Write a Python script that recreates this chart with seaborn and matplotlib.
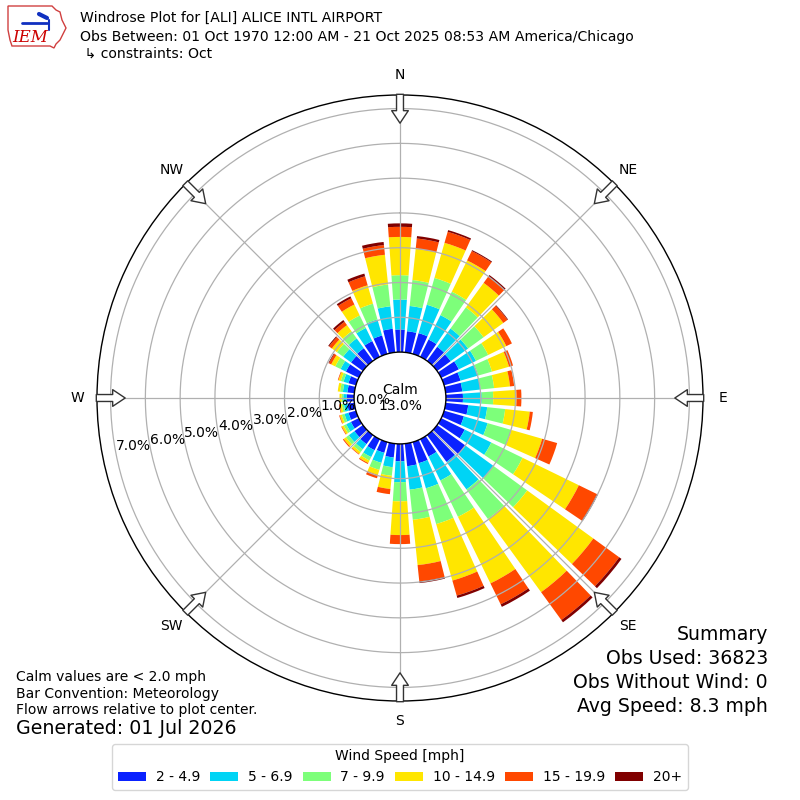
import numpy as np
import matplotlib
matplotlib.use("Agg")
import matplotlib.pyplot as plt
from matplotlib.patches import Patch, Circle, Polygon
import seaborn as sns

# wind direction bins (deg, meteorological) and speed bins
directions = list(range(0, 360, 10))
speed_bins = ["2 - 4.9", "5 - 6.9", "7 - 9.9", "10 - 14.9", "15 - 19.9", "20+"]
compass = ["N", "NE", "E", "SE", "S", "SW", "W", "NW"]

# frequency [%] per direction for each speed bin
spd_2_5 = [.65, .61, .62, .55, .50, .48, .56, .49, .48, .49, .65, .59,
           .75, 1.00, .95, .55, .63, .65, .50, .40, .32, .35, .32, .30,
           .25, .22, .20, .21, .20, .22, .41, .42, .45, .50, .55, .68]
spd_5_7 = [.86, .73, .85, .78, .65, .62, .55, .53, .53, .54, .55, .71,
           .85, 1.00, .98, .77, .75, .68, .60, .28, .30, .22, .18, .20,
           .15, .12, .10, .10, .13, .15, .17, .28, .35, .42, .48, .65]
spd_7_10 = [.70, .75, .80, .75, .75, .55, .39, .41, .39, .33, .52, .71,
            1.00, 1.20, 1.05, 1.16, 1.07, .87, .55, .25, .21, .11, .10, .10,
            .08, .08, .06, .05, .08, .08, .17, .22, .25, .40, .47, .63]
spd_10_15 = [1.10, .90, 1.05, 1.00, .87, .70, .58, .51, .46, .67, .71, .92,
             1.80, 2.35, 2.60, 2.13, 1.69, 1.31, .97, .38, .15, .08, .07, .08,
             .06, .06, .06, .06, .07, .07, .13, .18, .22, .35, .55, .86]
spd_15_20 = [.29, .30, .33, .30, .22, .15, .18, .12, .12, .14, .09, .45,
             .58, .92, .99, .67, .45, .47, .26, .15, .10, .03, .02, .03,
             .02, .02, .02, 0, 0, .02, .07, .10, .12, .20, .27, .28]
spd_20p = [.10, .07, .05, .03, .06, .02, 0, 0, 0, 0, 0, 0,
           .03, .08, .08, .08, .07, .05, 0, 0, 0, 0, 0, 0,
           0, 0, 0, 0, 0, 0, .02, .03, .06, .06, .08, .09]
calm_pct = 13.0

series = [spd_2_5, spd_5_7, spd_7_10, spd_10_15, spd_15_20, spd_20p]
colors = sns.color_palette(["#0a22ff", "#00d4f5", "#7dff7a",
                            "#ffe600", "#ff4800", "#800000"])

sns.set_theme(style="white")
plt.rcParams['font.family'] = ['DejaVu Sans']
plt.rcParams['text.color'] = 'black'
plt.rcParams['ytick.color'] = 'black'
plt.rcParams['ytick.labelcolor'] = 'black'

fig = plt.figure(figsize=(8, 8), dpi=100)
ax = fig.add_axes([0.12125, 0.12375, 0.7575, 0.7575], projection="polar")
ax.set_theta_zero_location("N")
ax.set_theta_direction(-1)

offset = 1.32          # calm circle radius, in % units
rmax = offset + 7.39
ax.set_ylim(0, rmax)

theta = np.deg2rad(directions)
width = np.deg2rad(10) * 0.8
bottom = np.full(len(directions), offset)
for vals, color in zip(series, colors):
    ax.bar(theta, vals, width=width, bottom=bottom, color=color,
           edgecolor="none", zorder=2)
    bottom = bottom + np.array(vals)

# grid drawn by hand so it sits over the bars but under the calm circle
ax.grid(False)
ring_t = np.linspace(0, 2 * np.pi, 361)
for k in range(1, 8):
    ax.plot(ring_t, np.full_like(ring_t, offset + k), color="#b0b0b0",
            lw=0.9, zorder=2.6)
for ang in range(0, 360, 45):
    ax.plot([np.deg2rad(ang)] * 2, [offset, rmax], color="#b0b0b0",
            lw=0.9, zorder=2.6)

ax.set_xticks(np.deg2rad(range(0, 360, 45)))
ax.set_xticklabels([])
ax.set_yticks(offset + np.arange(8))
ax.set_yticklabels([f"{k:.1f}%" for k in range(8)], fontsize=10,
                   color="black")
ax.set_rlabel_position(259)
ax.tick_params(axis="y", pad=0)
ax.yaxis.set_zorder(4)
ax.spines["polar"].set_color("black")
ax.spines["polar"].set_linewidth(1.0)

calm = Circle((0.5, 0.5), 0.5 * offset / rmax, transform=ax.transAxes,
              facecolor="white", edgecolor="black", lw=1.0, zorder=3)
ax.add_patch(calm)
ax.text(0.5, 0.5, f"Calm\n{calm_pct:.1f}%", transform=ax.transAxes,
        ha="center", va="center", fontsize=10, zorder=5)

# direction labels and flow arrows
for name, ang in zip(compass, range(0, 360, 45)):
    t = np.deg2rad(ang)
    ax.annotate("", xy=(t, 7.9), xytext=(t, rmax + 0.02),
                arrowprops=dict(facecolor="white", edgecolor="#333333",
                                width=5, headwidth=12, headlength=9,
                                shrink=0, lw=1),
                annotation_clip=False, zorder=6)
    ax.text(t, 9.28, name, ha="center", va="center", fontsize=10)

# header with a rough IEM logo
px = lambda x, y: (x / 800, 1 - y / 800)
iowa = Polygon([px(8, 6), px(52, 6), px(56, 10), px(60, 12), px(62, 20),
                px(66, 28), px(63, 34), px(60, 40), px(56, 44), px(54, 48),
                px(50, 46), px(12, 46), px(10, 40), px(8, 30)],
               closed=True, fill=False, edgecolor="#d04040", lw=1,
               transform=fig.transFigure)
fig.patches.append(iowa)
for (x0, y0), (x1, y1), lw in [((22, 23), (47, 23), 2), ((39, 14), (47, 18), 3),
                               ((49, 20), (49, 30), 1.5)]:
    fig.lines.append(plt.Line2D([x0 / 800, x1 / 800], [1 - y0 / 800, 1 - y1 / 800],
                                color="#1030c0", lw=lw,
                                transform=fig.transFigure))
fig.text(*px(30, 38), "IEM", color="#cc0000", fontsize=12, style="italic",
         family="DejaVu Serif", ha="center", va="center")
fig.text(*px(80, 18), "Windrose Plot for [ALI] ALICE INTL AIRPORT",
         fontsize=10.1, va="center")
fig.text(*px(80, 37), "Obs Between: 01 Oct 1970 12:00 AM - 21 Oct 2025 "
         "08:53 AM America/Chicago", fontsize=10.1, va="center")
fig.text(*px(80, 54), " \u21b3 constraints: Oct", fontsize=10.1, va="center")

# footer notes
fig.text(*px(16, 677), "Calm values are < 2.0 mph", fontsize=10, va="center")
fig.text(*px(16, 694), "Bar Convention: Meteorology", fontsize=10, va="center")
fig.text(*px(16, 710), "Flow arrows relative to plot center.", fontsize=10,
         va="center")
fig.text(*px(16, 729), "Generated: 01 Jul 2026", fontsize=13.7, va="center")

summary = ["Summary", "Obs Used: 36823", "Obs Without Wind: 0",
           "Avg Speed: 8.3 mph"]
for i, line in enumerate(summary):
    fig.text(*px(768, 635 + 23.7 * i), line, fontsize=13.6, ha="right",
             va="center")

handles = [Patch(facecolor=c, edgecolor="none") for c in colors]
fig.legend(handles, speed_bins, title="Wind Speed [mph]", ncol=6,
           loc="lower center", bbox_to_anchor=(0.5, 0.004), fontsize=10,
           title_fontsize=10, columnspacing=0.75, handletextpad=0.7,
           labelcolor="black")

fig.savefig("out.png", dpi=100)
